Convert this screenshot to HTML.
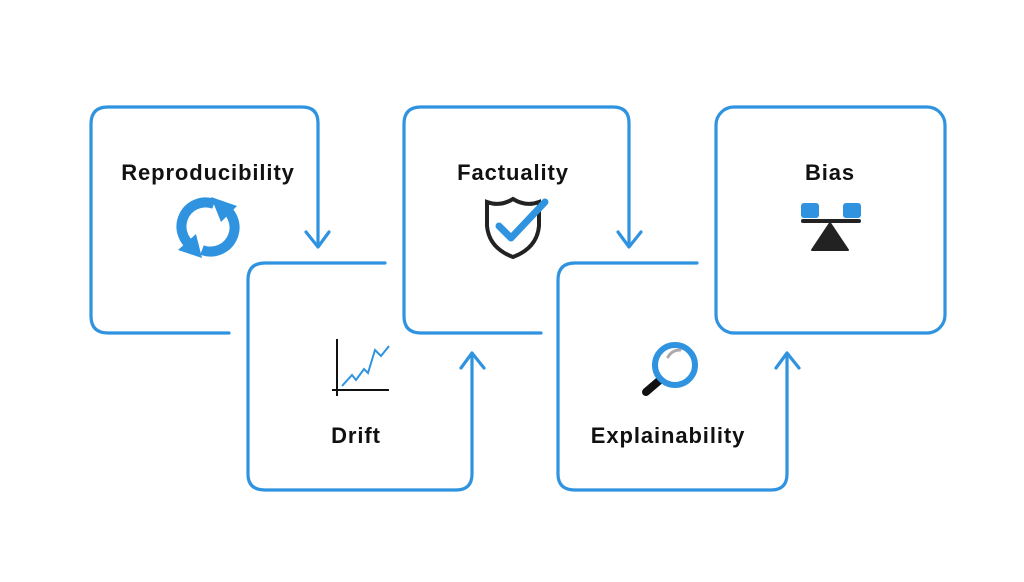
<!DOCTYPE html>
<html><head><meta charset="utf-8"><style>
html,body{margin:0;padding:0;background:#fff;}
svg{display:block}
text{font-family:"Liberation Sans",sans-serif;font-weight:bold;font-size:22px;letter-spacing:0.9px;fill:#111;text-anchor:middle}
</style></head><body>
<svg width="1024" height="582" viewBox="0 0 1024 582">
<g fill="none" stroke="#2f93e0" stroke-width="3.2" stroke-linecap="round" stroke-linejoin="round">
<path d="M229 333 L108 333 Q91 333 91 316 L91 124 Q91 107 108 107 L302 107 Q318 107 318 123 L318 246"/>
<path d="M306 232 L318 247 L329 232"/>
<path d="M385 263 L265 263 Q248 263 248 280 L248 474 Q248 490 265 490 L456 490 Q472 490 472 474 L472 354"/>
<path d="M461 368 L472 353 L484 368"/>
<path d="M541 333 L421 333 Q404 333 404 316 L404 124 Q404 107 421 107 L613 107 Q629 107 629 123 L629 246"/>
<path d="M618 232 L629 247 L641 232"/>
<path d="M697 263 L575 263 Q558 263 558 280 L558 474 Q558 490 575 490 L771 490 Q787 490 787 474 L787 354"/>
<path d="M776 368 L787 353 L799 368"/>
<rect x="716" y="107" width="229" height="226" rx="18"/>
</g>
<text x="208" y="180">Reproducibility</text>
<text x="513" y="180">Factuality</text>
<text x="830" y="180">Bias</text>
<text x="356" y="443">Drift</text>
<text x="668" y="443">Explainability</text>
<g fill="none" stroke="#2f93e0" stroke-width="10">
<path d="M219 205 A23 23 0 0 1 202 250"/>
<path d="M197 249 A23 23 0 0 1 214 204"/>
</g>
<path d="M211 197 L237 206 L221 222 Z" fill="#2f93e0"/>
<path d="M202 258 L178 250 L196 234 Z" fill="#2f93e0"/>
<path d="M487 202 Q500 207 513 199 Q526 207 539 202 L539 226 Q537 248 513 257 Q489 248 487 226 Z" fill="none" stroke="#222" stroke-width="4"/>
<path d="M499 226 L511 238 L545 202" fill="none" stroke="#2f93e0" stroke-width="7" stroke-linecap="round" stroke-linejoin="round"/>
<rect x="801" y="203" width="18" height="15" rx="3" fill="#2f93e0"/>
<rect x="843" y="203" width="18" height="15" rx="3" fill="#2f93e0"/>
<rect x="801" y="219" width="60" height="4" rx="2" fill="#222"/>
<path d="M830 223 L848 250 L812 250 Z" fill="#222" stroke="#222" stroke-width="2" stroke-linejoin="round"/>
<path d="M337 339 L337 396 M332 390 L389 390" stroke="#111" stroke-width="2" fill="none"/>
<path d="M342 386 L352 375 L356 380 L364 369 L368 373 L375 350 L381 356 L389 346" stroke="#2f93e0" stroke-width="2" fill="none"/>
<path d="M646 392 L660 380" stroke="#111" stroke-width="8" stroke-linecap="round"/>
<circle cx="675" cy="365" r="20" fill="#fff" stroke="#2f93e0" stroke-width="6"/>
<path d="M668 357 Q672 350 680 350" stroke="#aaa" stroke-width="3" fill="none" stroke-linecap="round"/>
</svg>
</body></html>
